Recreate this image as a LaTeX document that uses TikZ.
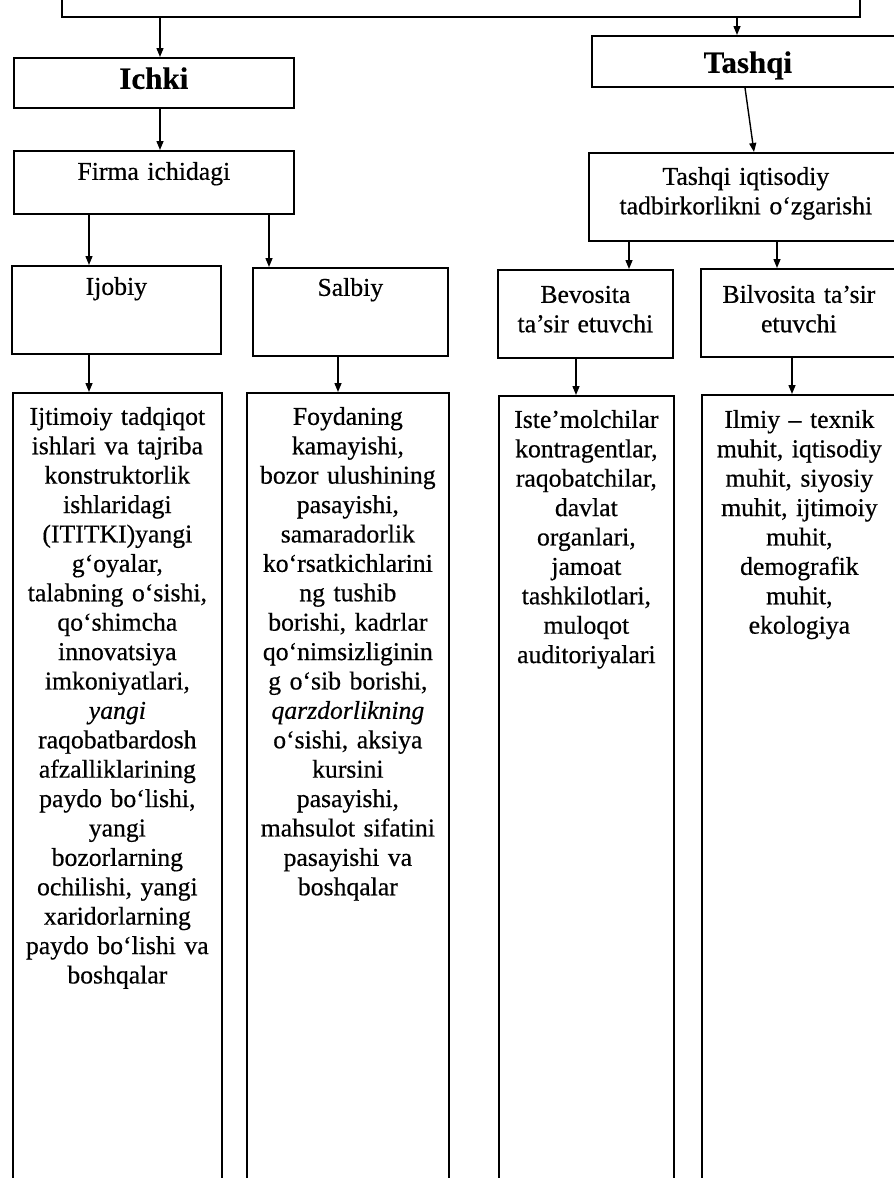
\documentclass[tikz,border=0pt]{standalone}
\usepackage{fontspec}
\setmainfont{Liberation Serif}[WordSpace=0.8,FakeBold=0.5]
\usetikzlibrary{arrows.meta}
\begin{document}
\begin{tikzpicture}[x=1pt,y=-1pt,
  box/.style={draw, line width=1.7pt, inner sep=0pt, anchor=north west, align=center},
  head/.style={font=\bfseries\fontsize{31}{35}\selectfont},
  arr/.style={line width=1.4pt, -{Triangle[length=9pt,width=7pt]}},
  every node/.append style={font=\fontsize{25.7}{29.4}\selectfont}]
\useasboundingbox (0,0) rectangle (894,1178);
\clip (0,0) rectangle (894,1178);
% top (cut-off) box
\node[box, minimum width=798pt, minimum height=80pt] (top) at (61,-64) {};
% level 1
\node[box, head, minimum width=280pt, text width=270pt, text height=31pt, text depth=19pt] (ichki) at (13,57) {Ichki};
\node[box, head, minimum width=312pt, text width=300pt, text height=37pt, text depth=14pt] (tashqi) at (591,35) {Tashqi};
% level 2
\node[box, minimum width=280pt, text width=270pt, text height=29pt, text depth=34pt] (firma) at (13,150) {Firma ichidagi};
\node[box, minimum width=314pt, text width=304pt, text height=32pt, text depth=56pt] (tiq) at (588,152) {Tashqi iqtisodiy\\tadbirkorlikni o‘zgarishi};
% level 3
\node[box, minimum width=209pt, text width=200pt, text height=29pt, text depth=59pt] (ijobiy) at (11,265) {Ijobiy};
\node[box, minimum width=195pt, text width=186pt, text height=28pt, text depth=60pt] (salbiy) at (252,267) {Salbiy};
\node[box, minimum width=175pt, text width=168pt, text height=33pt, text depth=55pt] (bev) at (497,269) {Bevosita\\ta’sir etuvchi};
\node[box, minimum width=196pt, text width=186pt, text height=34pt, text depth=54pt] (bil) at (700,268) {Bilvosita ta’sir\\etuvchi};
% level 4
\node[box, minimum width=209pt, text width=203pt, text height=32pt, text depth=900pt] (c1) at (12,392)
 {Ijtimoiy tadqiqot\\ishlari va tajriba\\konstruktorlik\\ishlaridagi\\(ITITKI)yangi\\g‘oyalar,\\talabning o‘sishi,\\qo‘shimcha\\innovatsiya\\imkoniyatlari,\\\textit{yangi}\\raqobatbardosh\\afzalliklarining\\paydo bo‘lishi,\\yangi\\bozorlarning\\ochilishi, yangi\\xaridorlarning\\paydo bo‘lishi va\\boshqalar};
\node[box, minimum width=202pt, text width=196pt, text height=32pt, text depth=900pt] (c2) at (246,392)
 {Foydaning\\kamayishi,\\bozor ulushining\\pasayishi,\\samaradorlik\\ko‘rsatkichlarini\\ng tushib\\borishi, kadrlar\\qo‘nimsizliginin\\g o‘sib borishi,\\\textit{qarzdorlikning}\\o‘sishi, aksiya\\kursini\\pasayishi,\\mahsulot sifatini\\pasayishi va\\boshqalar};
\node[box, minimum width=175pt, text width=170pt, text height=32pt, text depth=900pt] (c3) at (498,395)
 {Iste’molchilar\\kontragentlar,\\raqobatchilar,\\davlat\\organlari,\\jamoat\\tashkilotlari,\\muloqot\\auditoriyalari};
\node[box, minimum width=195pt, text width=190pt, text height=33pt, text depth=900pt] (c4) at (701,394)
 {Ilmiy – texnik\\muhit, iqtisodiy\\muhit, siyosiy\\muhit, ijtimoiy\\muhit,\\demografik\\muhit,\\ekologiya};
% connectors
\draw[arr] (top.south -| 160,0) -- (ichki.north -| 160,0);
\draw[arr] (top.south -| 737,0) -- (tashqi.north -| 737,0);
\draw[arr] (ichki.south -| 160,0) -- (firma.north -| 160,0);
\draw[arr] (tashqi.south -| 745,0) -- (tiq.north -| 754,0);
\draw[arr] (firma.south -| 89,0) -- (ijobiy.north -| 89,0);
\draw[arr] (firma.south -| 269,0) -- (salbiy.north -| 269,0);
\draw[arr] (tiq.south -| 629,0) -- (bev.north -| 629,0);
\draw[arr] (tiq.south -| 777,0) -- (bil.north -| 777,0);
\draw[arr] (ijobiy.south -| 89,0) -- (c1.north -| 89,0);
\draw[arr] (salbiy.south -| 338,0) -- (c2.north -| 338,0);
\draw[arr] (bev.south -| 576,0) -- (c3.north -| 576,0);
\draw[arr] (bil.south -| 792,0) -- (c4.north -| 792,0);
\end{tikzpicture}
\end{document}
